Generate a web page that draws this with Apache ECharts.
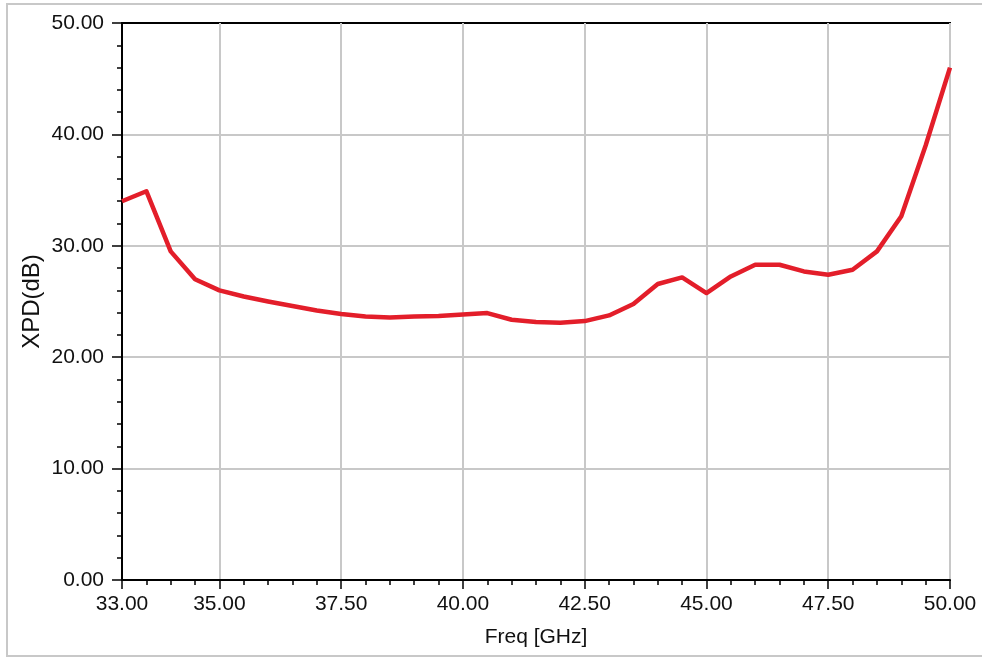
<!DOCTYPE html>
<html>
<head>
<meta charset="utf-8">
<script src="https://cdn.jsdelivr.net/npm/echarts@6/dist/echarts.min.js"></script>
<style>
html,body{margin:0;padding:0;background:#fff;}
#chart{width:982px;height:657px;}
</style>
</head>
<body>
<div id="chart"></div>
<script>
const freq = [33.0,33.5,34.0,34.5,35.0,35.5,36.0,36.5,37.0,37.5,38.0,38.5,39.0,39.5,40.0,40.5,41.0,41.5,42.0,42.5,43.0,43.5,44.0,44.5,45.0,45.5,46.0,46.5,47.0,47.5,48.0,48.5,49.0,49.5,50.0];
const xpd  = [34.0,34.9,29.5,27.0,26.0,25.45,25.0,24.6,24.2,23.87,23.66,23.57,23.66,23.7,23.84,23.96,23.36,23.15,23.1,23.24,23.75,24.77,26.57,27.16,25.76,27.25,28.3,28.3,27.7,27.4,27.85,29.5,32.65,39.0,46.0];
const xTickLabels = [33, 35, 37.5, 40, 42.5, 45, 47.5, 50];
const xGridLines = [35, 37.5, 40, 42.5, 45, 47.5];

const chart = echarts.init(document.getElementById('chart'));
const font = 'Liberation Sans, Arial, sans-serif';
const txt = '#111111';
chart.setOption({
  animation:false,
  backgroundColor:'#ffffff',
  graphic:[{type:'rect', shape:{x:7, y:4, width:990, height:652}, style:{fill:null, stroke:'#c8c8c8', lineWidth:2}, silent:true}],
  grid:{left:122, right:32, top:23, bottom:77, show:true, borderColor:'#000', borderWidth:2, backgroundColor:'transparent'},
  xAxis:[{
    type:'value', min:33, max:50,
    name:'Freq [GHz]', nameLocation:'middle', nameGap:47,
    nameTextStyle:{fontFamily:font, fontSize:21, color:txt},
    axisLine:{show:true, onZero:false, lineStyle:{color:'#000', width:2}},
    axisTick:{show:true, length:9, lineStyle:{color:'#000', width:1.5}, customValues:xTickLabels},
    axisLabel:{fontFamily:font, fontSize:21, color:txt, margin:14, customValues:xTickLabels,
      formatter:v=>v.toFixed(2)},
    splitLine:{show:true, customValues:xGridLines, lineStyle:{color:'#c8c8c8', width:2}}
  },{
    type:'value', min:33, max:50, interval:0.5, position:'bottom',
    axisLine:{show:false}, axisLabel:{show:false}, splitLine:{show:false},
    axisTick:{show:true, length:5, lineStyle:{color:'#000', width:1.5}}
  }],
  yAxis:{
    type:'value', min:0, max:50, interval:10,
    name:'XPD(dB)', nameLocation:'middle', nameGap:78, nameMoveOverlap:false,
    nameTextStyle:{fontFamily:font, fontSize:24, color:txt},
    axisLine:{show:true, onZero:false, lineStyle:{color:'#000', width:2}},
    axisTick:{show:true, length:10, lineStyle:{color:'#000', width:1.5}},
    minorTick:{show:true, splitNumber:5, length:5, lineStyle:{color:'#000', width:1.5}},
    axisLabel:{fontFamily:font, fontSize:21, color:txt, margin:18, formatter:v=>v.toFixed(2)},
    splitLine:{show:true, showMinLine:false, showMaxLine:false, lineStyle:{color:'#c8c8c8', width:2}}
  },
  series:[{
    type:'line', xAxisIndex:0,
    data:freq.map((f,i)=>[f, xpd[i]]),
    showSymbol:false, symbol:'none',
    lineStyle:{color:'#e31e2a', width:4.5, join:'round'},
    z:5
  }]
});
</script>
</body>
</html>
